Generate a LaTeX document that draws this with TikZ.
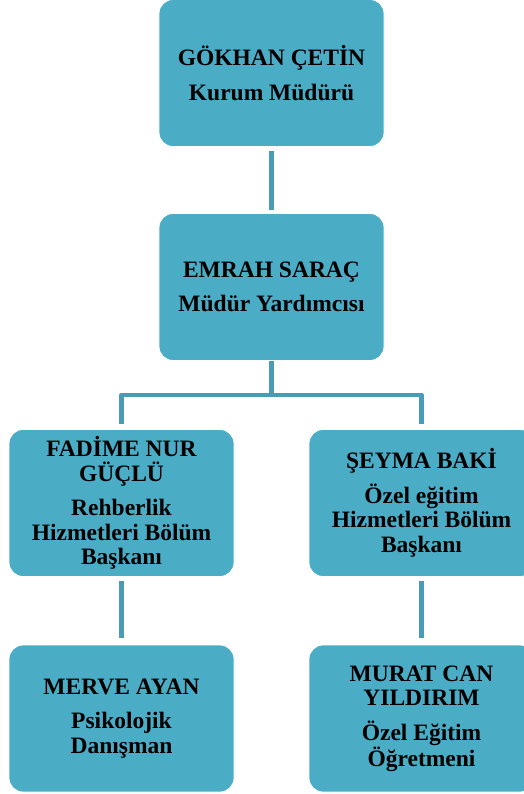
\documentclass[tikz,border=0pt]{standalone}
\usepackage{fontspec}
\setmainfont{Liberation Serif}
\definecolor{boxfill}{HTML}{4BACC6}
\definecolor{linkcol}{HTML}{4A9BB5}
\begin{document}
\begin{tikzpicture}[x=1pt,y=-1pt,
  orgbox/.style={draw=white,line width=0.8pt,fill=boxfill,rounded corners=14pt,
    minimum width=225pt,minimum height=147pt,inner sep=0pt,align=center,
    font=\fontsize{23.5}{24.5}\selectfont\bfseries,text=black},
  link/.style={draw=linkcol,line width=4.5pt}]
\useasboundingbox (0,0) rectangle (523,794);
\node[orgbox] (top) at (271.5,73) {GÖKHAN ÇETİN\\[10pt]Kurum Müdürü};
\node[orgbox] (mid) at (271.5,287) {EMRAH SARAÇ\\[10pt]Müdür Yardımcısı};
\node[orgbox] (left) at (121.5,503) {FADİME NUR\\GÜÇLÜ\\[10pt]Rehberlik\\Hizmetleri Bölüm\\Başkanı};
\node[orgbox] (right) at (421.5,503) {ŞEYMA BAKİ\\[10pt]Özel eğitim\\Hizmetleri Bölüm\\Başkanı};
\node[orgbox] (bl) at (121.5,718.5) {MERVE AYAN\\[10pt]Psikolojik\\Danışman};
\node[orgbox] (br) at (421.5,718.5) {MURAT CAN\\YILDIRIM\\[10pt]Özel Eğitim\\Öğretmeni};
\coordinate (bar) at (271.5,395);
\draw[link,shorten <=4pt,shorten >=3pt] (top.south) -- (mid.north);
\draw[link,shorten <=0pt] (mid.south) -- (bar);
\draw[link,line join=round,shorten >=5pt] (bar) -| (left.north);
\draw[link,line join=round,shorten >=5pt] (bar) -| (right.north);
\draw[link,shorten <=4pt,shorten >=7pt] (left.south) -- (bl.north);
\draw[link,shorten <=4pt,shorten >=7pt] (right.south) -- (br.north);
\end{tikzpicture}
\end{document}
